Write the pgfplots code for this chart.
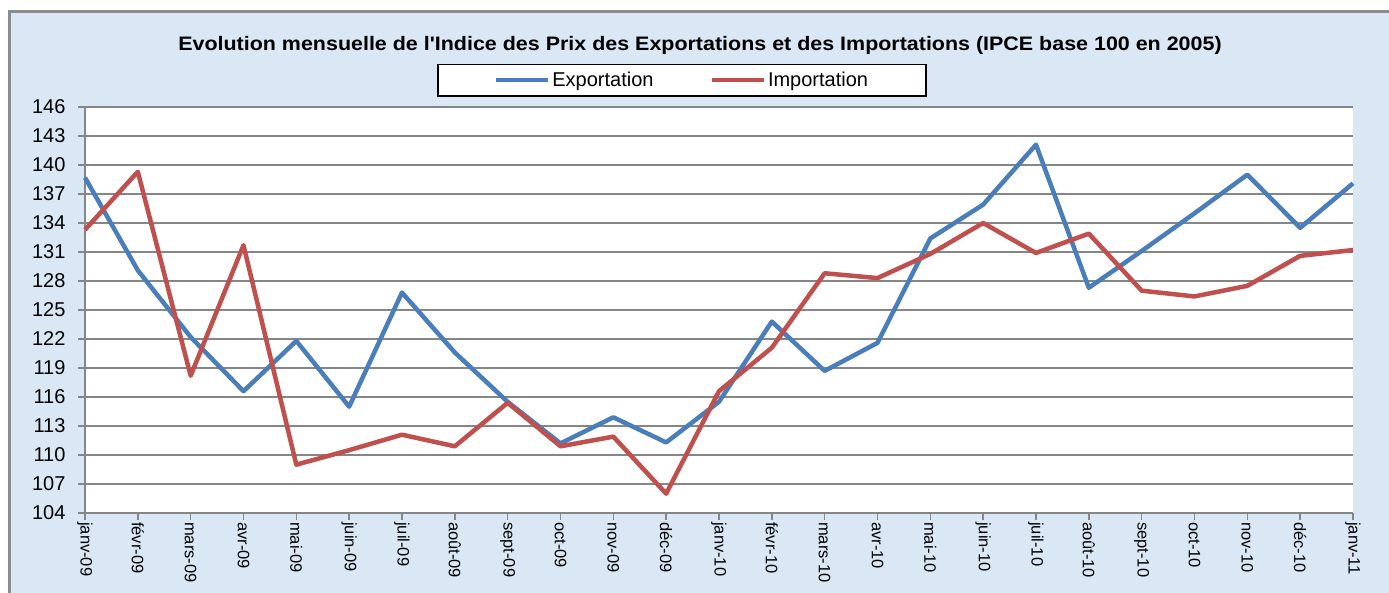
\documentclass[border=0pt]{standalone}
\usepackage{pgfplots}
\pgfplotsset{compat=1.18}
\usepackage{fontspec}
\setmainfont{Liberation Sans}
\definecolor{bgblue}{RGB}{218,231,245}
\definecolor{frame}{RGB}{140,140,140}
\definecolor{gridc}{RGB}{134,134,134}
\definecolor{expc}{RGB}{74,126,187}
\definecolor{impc}{RGB}{192,80,77}
\pgfplotstableread{
x exp imp
0 138.7 133.3
1 129.1 139.3
2 122.2 118.2
3 116.6 131.7
4 121.8 109.0
5 115.0 110.5
6 126.8 112.1
7 120.6 110.9
8 115.5 115.4
9 111.2 110.9
10 113.9 111.9
11 111.3 106.0
12 115.5 116.6
13 123.8 121.1
14 118.7 128.8
15 121.6 128.3
16 132.4 130.8
17 135.9 134.0
18 142.1 130.9
19 127.3 132.9
20 131.1 127.0
21 135.0 126.4
22 139.0 127.5
23 133.5 130.6
24 138.1 131.2
}\datatable
\begin{document}
\begin{tikzpicture}[x=1pt,y=1pt]
\useasboundingbox (0,0) rectangle (1389,593);
\fill[white] (0,0) rectangle (1389,593);
\fill[bgblue] (9,0) rectangle (1389,581);
\draw[frame, line width=3pt] (9,0) -- (9,581) -- (1389,581);
\node[font=\fontsize{19.5}{22}\selectfont\bfseries] at (700,548) {\scalebox{1.1}[1]{Evolution mensuelle de l\textquotesingle Indice des Prix des Exportations et des Importations (IPCE base 100 en 2005)}};
\begin{axis}[
  at={(85pt,80pt)}, anchor=south west,
  scale only axis, width=1268pt, height=406pt,
  xmin=0, xmax=24, ymin=104, ymax=146,
  ytick={104,107,...,146},
  xtick={0,...,24},
  xticklabels={janv-09,févr-09,mars-09,avr-09,mai-09,juin-09,juil-09,août-09,sept-09,oct-09,nov-09,déc-09,janv-10,févr-10,mars-10,avr-10,mai-10,juin-10,juil-10,août-10,sept-10,oct-10,nov-10,déc-10,janv-11},
  x tick label style={rotate=-90, anchor=west, font=\fontsize{16.5}{18}\selectfont, inner sep=2pt},
  y tick label style={font=\fontsize{20}{22}\selectfont, xshift=-9pt},
  /pgf/number format/assume math mode=true,
  axis lines=left,
  axis line style={-, gridc, line width=2pt},
  tick style={gridc, line width=1.5pt},
  tick align=outside,
  major tick length=7pt,
  ymajorgrids,
  grid style={gridc, line width=1.7pt},
  axis background/.style={fill=white},
  clip=false,
  legend columns=2,
  legend style={at={(0.4708,1)}, anchor=south, yshift=10pt,
    draw=black, line width=1.5pt, fill=white,
    font=\fontsize{20}{22}\selectfont,
    inner xsep=56pt, inner ysep=6pt,
    /tikz/every even column/.append style={column sep=54pt}},
  legend image code/.code={\draw[#1] (0pt,0pt) -- (52pt,0pt);},
]
\addplot[expc, line width=4.5pt, line join=round] table[x=x,y=exp] {\datatable};
\addlegendentry{Exportation}
\addplot[impc, line width=4.5pt, line join=round] table[x=x,y=imp] {\datatable};
\addlegendentry{Importation}
\end{axis}
\end{tikzpicture}
\end{document}
